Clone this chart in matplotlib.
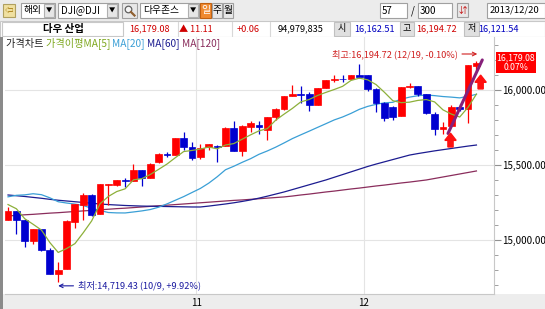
import matplotlib
matplotlib.use('Agg')
import matplotlib.pyplot as plt
from matplotlib.patches import Rectangle, FancyArrow, Circle
import pandas as pd

plt.rcParams['font.family'] = ['Noto Sans CJK KR', 'DejaVu Sans']

# Dow Jones Industrial daily bars 2013-10-01 .. 2013-12-19
dates = ['10/01', '10/02', '10/03', '10/04', '10/07', '10/08', '10/09', '10/10', '10/11', '10/14',
         '10/15', '10/16', '10/17', '10/18', '10/21', '10/22', '10/23', '10/24', '10/25', '10/28',
         '10/29', '10/30', '10/31', '11/01', '11/04', '11/05', '11/06', '11/07', '11/08', '11/11',
         '11/12', '11/13', '11/14', '11/15', '11/18', '11/19', '11/20', '11/21', '11/22', '11/25',
         '11/26', '11/27', '11/29', '12/02', '12/03', '12/04', '12/05', '12/06', '12/09', '12/10',
         '12/11', '12/12', '12/13', '12/16', '12/17', '12/18', '12/19']
opens = [15132, 15190, 15130, 14994, 15070, 14935, 14775, 14807, 15120, 15233,
         15300, 15170, 15365, 15367, 15400, 15393, 15467, 15413, 15520, 15570,
         15567, 15680, 15620, 15553, 15620, 15626, 15627, 15747, 15593, 15755,
         15767, 15735, 15817, 15876, 15962, 15975, 15970, 15903, 16010, 16065,
         16076, 16072, 16099, 16098, 16005, 15913, 15887, 15825, 16020, 16025,
         15973, 15843, 15742, 15760, 15885, 15875, 16160]
highs = [15222, 15192, 15138, 15076, 15071, 14946, 14850, 15131, 15240, 15310,
         15308, 15374, 15376, 15400, 15414, 15509, 15467, 15513, 15580, 15585,
         15681, 15721, 15650, 15640, 15640, 15636, 15750, 15793, 15764, 15795,
         15790, 15822, 15878, 15962, 16030, 16027, 15985, 16015, 16065, 16100,
         16100, 16100, 16174, 16099, 16010, 15920, 15892, 16020, 16045, 16025,
         15975, 15850, 15787, 15900, 15904, 16168, 16194.72]
lows = [15130, 15043, 14952, 14975, 14928, 14774, 14719.43, 14807, 15080, 15133,
        15160, 15170, 15233, 15358, 15355, 15393, 15360, 15413, 15510, 15552,
        15567, 15600, 15530, 15540, 15600, 15520, 15625, 15590, 15560, 15720,
        15707, 15667, 15800, 15868, 15960, 15913, 15860, 15903, 16010, 16050,
        16050, 16070, 16080, 15990, 15851, 15795, 15800, 15825, 16015, 15960,
        15840, 15703, 15705, 15760, 15860, 15780, 16124]
closes = [15191.70, 15133.14, 14996.48, 15072.58, 14936.24, 14776.53, 14802.98, 15126.07, 15237.11, 15301.26,
          15168.01, 15373.83, 15371.65, 15399.65, 15392.20, 15467.66, 15413.33, 15509.21, 15570.28, 15568.93,
          15680.35, 15618.76, 15545.75, 15615.55, 15639.12, 15618.22, 15746.88, 15593.98, 15761.78, 15783.10,
          15750.67, 15821.63, 15876.22, 15961.70, 15976.02, 15967.03, 15900.82, 16009.99, 16064.77, 16072.54,
          16072.80, 16097.33, 16086.41, 16008.77, 15914.62, 15815.00, 15818.00, 16020.20, 16025.53, 15973.13,
          15843.53, 15739.43, 15755.36, 15884.57, 15875.26, 16167.97, 16179.08]
# September closes ahead of the window (for MA5 / MA20)
prior_closes = [14930.87, 14937.48, 14922.50, 15063.12, 15191.06, 15326.60, 15300.64, 15376.06, 15494.78, 15529.73,
                15676.94, 15636.55, 15451.09, 15401.38, 15334.59, 15273.26, 15328.30, 15258.24, 15129.67]
# long averages
ma60 = [15300, 15295, 15290, 15284, 15278, 15271, 15265, 15260, 15255, 15250,
        15245, 15240, 15236, 15233, 15230, 15228, 15226, 15225, 15224, 15223,
        15222, 15221, 15220, 15220, 15226, 15233, 15240, 15248, 15257, 15267,
        15279, 15292, 15306, 15320, 15336, 15352, 15368, 15384, 15400, 15418,
        15436, 15454, 15472, 15490, 15506, 15521, 15536, 15551, 15566, 15576,
        15585, 15594, 15602, 15610, 15618, 15626, 15633]
ma120 = [15160, 15164, 15168, 15171, 15175, 15179, 15182, 15186, 15190, 15194,
         15197, 15201, 15205, 15209, 15212, 15216, 15220, 15224, 15228, 15232,
         15236, 15240, 15244, 15248, 15252, 15256, 15260, 15264, 15267, 15271,
         15275, 15279, 15283, 15287, 15293, 15300, 15306, 15313, 15320, 15326,
         15333, 15340, 15346, 15353, 15360, 15366, 15373, 15380, 15386, 15393,
         15400, 15410, 15420, 15430, 15440, 15450, 15460]
trend_line = [(52.6, 15710), (56.7, 16200)]
up_arrows = [(52.9, 15620), (56.5, 16007)]

RED = '#ff0000'
BLUE = '#0000d0'

fig = plt.figure(figsize=(5.45, 3.09), dpi=100)
fig.patch.set_facecolor('white')

# ---- window chrome drawn in pixel coordinates ----
ui = fig.add_axes([0, 0, 1, 1], zorder=0)
ui.set_xlim(0, 545)
ui.set_ylim(309, 0)
ui.axis('off')

# overlay for things drawn on top of the chart
top = fig.add_axes([0, 0, 1, 1], zorder=5)
top.set_xlim(0, 545)
top.set_ylim(309, 0)
top.axis('off')
top.patch.set_alpha(0)

def box(x0, y0, x1, y1, fc='white', ec='#a0a0a0', lw=0.8):
    ui.add_patch(Rectangle((x0, y0), x1 - x0, y1 - y0, fc=fc, ec=ec, lw=lw))

def txt(x, y, s, color='black', ha='center', size=7, weight='normal'):
    ui.text(x, y, s, color=color, ha=ha, va='center', fontsize=size, fontweight=weight)

def combo(x0, x1, label):
    box(x0, 3, x1, 18)
    box(x1 - 11, 4, x1 - 1, 17, fc='#e6e6e6', ec='#b0b0b0')
    txt(x1 - 6, 10.5, '▼', size=4.5)
    txt(x0 + 3, 10.5, label, ha='left')

box(0, 0, 545, 21, fc='#ececec', ec='none')
box(0, 21, 545, 37, fc='white', ec='#c8c8c8')
box(0, 37, 545, 294, fc='white', ec='none')
box(0, 294, 545, 309, fc='#ededed', ec='none')
box(0, 37, 3, 309, fc='#8a8a8a', ec='none')

box(3, 4, 15, 17, fc='#f0e0a0', ec='#b0a060')
txt(9, 10.5, '⇦', color='#a07000', size=6)
combo(21, 55, '해외')
combo(58, 118, 'DJI@DJI')
box(122, 3, 137, 18, fc='#e8e8e8', ec='#a0a0a0')
ui.add_patch(Circle((128.5, 9.5), 3.3, fc='#f4f4f4', ec='#606060', lw=0.9))
ui.plot([131, 134.5], [12, 15.5], color='#906030', lw=1.6)
combo(140, 199, '다우존스')
box(200, 3, 211, 18, fc='#f08a30', ec='#c06010')
txt(205.5, 10.5, '일', color='white')
box(212, 3, 222, 18, fc='#e8e8e8', ec='#a0a0a0')
txt(217, 10.5, '주')
box(223, 3, 233, 18, fc='#e8e8e8', ec='#a0a0a0')
txt(228, 10.5, '월')
box(380, 3, 407, 18)
txt(382, 10.5, '57', ha='left')
txt(413, 10.5, '/')
box(418, 3, 452, 18)
txt(420, 10.5, '300', ha='left')
box(457, 3, 468, 17, fc='#e8e8e8', ec='#a0a0a0')
txt(462.5, 10, '⇵', color='#c00000', size=6)
box(487, 3, 545, 18)
txt(490, 10.5, '2013/12/20', ha='left', size=6.8)

# quote row
QS = 6.6
box(2, 22, 123, 36, fc='white', ec='#c8c8c8')
for xl in (178, 232, 270):
    ui.plot([xl, xl], [22, 36], color='#d8d8d8', lw=0.8)
txt(63, 29, '다우 산업', weight='bold', size=7.5)
txt(170, 29, '16,179.08', color='#d00000', ha='right', size=QS)
txt(213, 29, '▲ 11.11', color='#d00000', ha='right', size=QS)
txt(260, 29, '+0.06', color='#d00000', ha='right', size=QS)
txt(324, 29, '94,979,835', ha='right', size=QS)
for x0, x1, lab in [(334, 350, '시'), (400, 414, '고'), (464, 479, '저')]:
    box(x0, 22, x1, 36, fc='#e0e0e0', ec='#c0c0c0')
    txt((x0 + x1) / 2, 29, lab, size=6.5)
txt(395, 29, '16,162.51', color='#0000c0', ha='right', size=QS)
txt(457, 29, '16,194.72', color='#d00000', ha='right', size=QS)
txt(519, 29, '16,121.54', color='#0000c0', ha='right', size=QS)

# ---- price chart ----
ax = fig.add_axes([5 / 545, 15 / 309, 489 / 545, 257 / 309], zorder=1)
ax.set_facecolor('white')
n = len(closes)
xs = list(range(n))

allc = pd.Series(prior_closes + closes)
ma5 = allc.rolling(5).mean().iloc[len(prior_closes):].values
ma20 = allc.rolling(20).mean().iloc[len(prior_closes):].values

# month boundaries for the x axis
month_idx = [i for i in range(1, n) if dates[i][:2] != dates[i - 1][:2]]
for i in month_idx:
    ax.axvline(i - 0.5, color='#e4e4e4', lw=0.8, zorder=0)
for v in (15000, 15500, 16000):
    ax.axhline(v, color='#e4e4e4', lw=0.8, zorder=0)

ax.plot(xs, ma120, color='#8a2d5c', lw=0.9, zorder=2)
ax.plot(xs, ma60, color='#1c1c90', lw=0.9, zorder=2)
ax.plot(xs, ma20, color='#3a9fd6', lw=0.9, zorder=2)

for i in xs:
    o, h, l, c = opens[i], highs[i], lows[i], closes[i]
    col = RED if c >= o else BLUE
    ax.vlines(i, l, h, color=col, lw=0.9, zorder=3)
    ax.bar(i, max(abs(c - o), 1.0), bottom=min(o, c), width=0.82,
           color=col, edgecolor=col, lw=0.5, zorder=4)

ax.plot(xs, ma5, color='#8db03a', lw=0.9, zorder=5)

# trend line and arrows
(tx0, ty0), (tx1, ty1) = trend_line
ax.plot([tx0, tx1], [ty0, ty1], color='#86207a', lw=2.2, solid_capstyle='round', zorder=6)
for ax_x, ax_y in up_arrows:
    ax.add_patch(FancyArrow(ax_x, ax_y, 0, 92, width=0.62, head_width=1.35, head_length=48,
                            length_includes_head=True, color='#ff1010', zorder=7))

# highest / lowest labels
hi = max(range(n), key=lambda i: highs[i])
lo = min(range(n), key=lambda i: lows[i])
hi_txt = '최고:{:,.2f} ({}, {:.2f}%)'.format(highs[hi], dates[hi].lstrip('0').replace('/0', '/'),
                                           (closes[-1] - highs[hi]) / highs[hi] * 100)
lo_txt = '최저:{:,.2f} ({}, +{:.2f}%)'.format(lows[lo], dates[lo].lstrip('0').replace('/0', '/'),
                                           (closes[-1] - lows[lo]) / lows[lo] * 100)
ax.annotate(hi_txt, xy=(hi + 0.1, highs[hi] + 45), xytext=(-14, 0), textcoords='offset points',
            ha='right', va='center', fontsize=6.6, color='#d02020',
            arrowprops=dict(arrowstyle='->', color='#d02020', lw=0.8, shrinkA=1, shrinkB=0))
ax.annotate(lo_txt, xy=(lo, lows[lo] - 25), xytext=(14, 0), textcoords='offset points',
            ha='left', va='center', fontsize=6.6, color='#1a1aa0',
            arrowprops=dict(arrowstyle='->', color='#1a1aa0', lw=0.8, shrinkA=1, shrinkB=0))

# legend row
parts = [('가격차트 ', '#202020'), ('가격이평MA[5] ', '#7fa820'), ('MA[20] ', '#3a9fd6'),
         ('MA[60] ', '#1c1c90'), ('MA[120]', '#8a2d5c')]
fig.canvas.draw()
tx = 6
for s, col in parts:
    t = top.text(tx, 43.5, s, color=col, fontsize=7.3, ha='left', va='center')
    bb = t.get_window_extent(renderer=fig.canvas.get_renderer())
    tx += bb.width

ax.set_xlim(-0.36, 58.1)
ax.set_ylim(14640, 16353)
ax.yaxis.tick_right()
ax.set_yticks([15000, 15500, 16000])
ax.set_yticks(range(14700, 16400, 100), minor=True)
ax.yaxis.set_major_formatter(matplotlib.ticker.FuncFormatter(lambda v, p: '{:,.2f}'.format(v)))
ax.tick_params(axis='y', which='major', length=5, color='#909090', labelsize=7, pad=1)
ax.tick_params(axis='y', which='minor', length=3, color='#909090')
ax.set_xticks([i - 0.5 for i in month_idx])
ax.set_xticklabels([str(int(dates[i][:2])) for i in month_idx])
ax.tick_params(axis='x', length=0, labelsize=7, pad=3)
for s in ('top', 'left'):
    ax.spines[s].set_visible(False)
for s in ('bottom', 'right'):
    ax.spines[s].set_color('#c8c8c8')

# current price tag
top.add_patch(Rectangle((496, 52), 40, 21, fc='#ff0000', ec='none'))
top.text(516, 57.5, '{:,.2f}'.format(closes[-1]), color='white', fontsize=6.3, ha='center', va='center')
top.text(516, 67.5, '{:.2f}%'.format((closes[-1] - closes[-2]) / closes[-2] * 100), color='white',
         fontsize=6.3, ha='center', va='center')

fig.savefig('out.png', dpi=100)
